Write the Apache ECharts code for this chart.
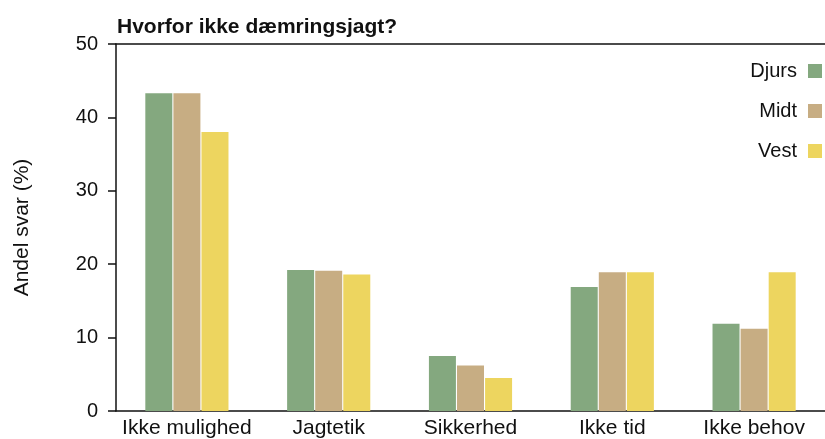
<!DOCTYPE html>
<html>
<head>
<meta charset="utf-8">
<script src="https://cdn.jsdelivr.net/npm/echarts@6/dist/echarts.min.js"></script>
<style>html,body{margin:0;padding:0;background:#fff;}#c{width:825px;height:439px;}</style>
</head>
<body>
<div id="c"></div>
<script>
var categories = ['Ikke mulighed', 'Jagtetik', 'Sikkerhed', 'Ikke tid', 'Ikke behov'];
var djurs = [43.3, 19.2, 7.5, 16.9, 11.9];
var midt = [43.3, 19.1, 6.2, 18.9, 11.2];
var vest = [38.0, 18.6, 4.5, 18.9, 18.9];
var seriesNames = ['Djurs', 'Midt', 'Vest'];
var colors = ['#84a87f', '#c7ad83', '#edd55f'];

var chart = echarts.init(document.getElementById('c'), null, {renderer: 'canvas'});
var font = 'Liberation Sans, Arial, sans-serif';
function bar(name, data, color) {
  return {
    name: name, type: 'bar', data: data, barWidth: 27, barGap: '4%',
    itemStyle: {color: color}, emphasis: {disabled: true}
  };
}
chart.setOption({
  animation: false,
  title: {
    text: 'Hvorfor ikke dæmringsjagt?', left: 112, top: 12,
    textStyle: {fontFamily: font, fontSize: 21, fontWeight: 'bold', color: '#111'}
  },
  legend: {
    orient: 'vertical', right: -2, top: 56, align: 'right',
    itemWidth: 14, itemHeight: 14, itemGap: 20, icon: 'rect',
    textStyle: {fontFamily: font, fontSize: 20, color: '#111', lineHeight: 20, padding: [0, 6, 0, 0]},
    data: seriesNames
  },
  grid: {left: 116, right: -12, top: 44, bottom: 28, containLabel: false},
  xAxis: [{
    type: 'category', data: categories,
    axisLine: {lineStyle: {color: '#111', width: 1.5}},
    axisTick: {length: 10, lineStyle: {color: '#111', width: 1.5}},
    axisLabel: {fontFamily: font, fontSize: 21, color: '#111', margin: 7, interval: 0}
  }, {
    type: 'category', data: categories, position: 'top',
    axisLine: {lineStyle: {color: '#111', width: 1.5}},
    axisTick: {show: false}, axisLabel: {show: false}
  }],
  yAxis: {
    type: 'value', min: 0, max: 50, interval: 10,
    name: 'Andel svar (%)', nameLocation: 'middle', nameGap: 83, nameRotate: 90,
    nameTextStyle: {fontFamily: font, fontSize: 21, color: '#111'},
    axisLine: {show: true, lineStyle: {color: '#111', width: 1.5}},
    axisTick: {show: true, length: 8, lineStyle: {color: '#111', width: 1.5}},
    axisLabel: {fontFamily: font, fontSize: 20, color: '#111', margin: 18},
    splitLine: {show: false}
  },
  series: [bar('Djurs', djurs, colors[0]), bar('Midt', midt, colors[1]), bar('Vest', vest, colors[2])]
});
</script>
</body>
</html>
